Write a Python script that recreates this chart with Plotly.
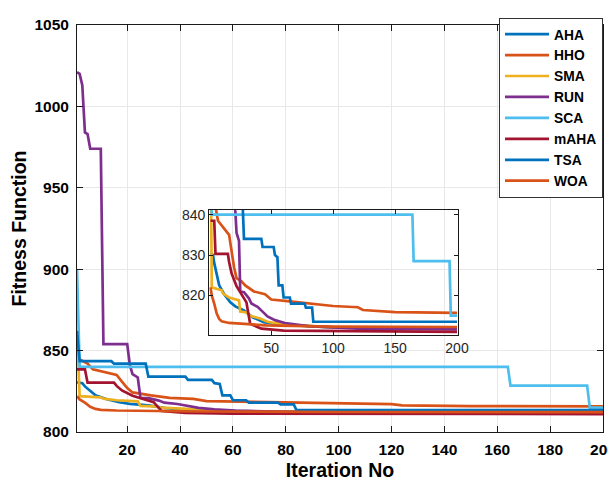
import plotly.graph_objects as go

# ---------------- data (convergence curves: iteration breakpoints, fitness) --------------
names = ["AHA", "HHO", "SMA", "RUN", "SCA", "mAHA", "TSA", "WOA"]
colors = ["#0072BD", "#D95319", "#EDB120", "#7E2F8E", "#4DBEEE", "#A2142F", "#0072BD", "#D95319"]

aha_it = [1, 3, 4, 6, 8, 12, 17, 21, 28, 35, 44, 58, 100, 200]
aha_val = [830.5, 830, 828, 825, 822.5, 820.3, 818.3, 817.3, 816.3, 814.6, 813.4, 812.8, 812.1, 811.8]

hho_it = [1, 4, 5, 7, 14, 16, 18, 20, 22, 26, 29, 36, 45, 50, 63, 80, 100, 120, 124, 150, 200]
hho_val = [845.5, 843, 842, 838.5, 836, 835, 831, 827, 824.3, 823.5, 822.5, 821, 820.3, 819, 818.6,
           818, 817.4, 817.1, 816.4, 815.9, 815.7]

sma_it = [1, 2, 10, 11, 16, 22, 24, 25, 30, 33, 41, 47, 60, 100, 200]
sma_val = [863, 822, 821.3, 820.5, 819.5, 819, 818.8, 816, 815.8, 815, 814.3, 813.5, 812.8, 812.1, 811.8]

run_it = [1, 2, 3, 4, 5, 6, 10, 11, 20, 21, 22, 24, 25, 28, 32, 34, 39, 43, 47, 53, 61, 80, 120, 200]
run_val = [1021, 1020, 1013, 984, 983, 974, 974, 854, 854, 841, 835.5, 833.5, 821, 820.8, 819.3, 818,
           817.2, 816, 814.8, 813.9, 813.2, 812.4, 811.8, 811.6]

sca_it = [1, 2, 164, 165, 194, 195, 200]
sca_val = [900, 840, 840, 828.5, 828.5, 815, 815]

maha_it = [1, 4, 5, 15, 16, 18, 22, 26, 30, 31, 33, 42, 60, 200]
maha_val = [838.5, 838.5, 830.3, 830.3, 828.3, 825.5, 822.3, 820.3, 818.3, 816.5, 813, 811.8, 811.3, 811]

tsa_it = [1, 2, 14, 15, 27, 28, 42, 43, 52, 53, 55, 56, 59, 60, 65, 66, 77, 78, 83, 84, 200]
tsa_val = [862, 843.5, 843.5, 842, 842, 834, 834, 832, 832, 830, 829.5, 822.5, 822.5, 819.5, 819.5,
           818, 818, 817, 817, 813.5, 813.5]

woa_it = [1, 2, 4, 6, 8, 10, 16, 46, 100, 200]
woa_val = [822, 820, 818, 815.5, 814.2, 813.6, 813.2, 812.6, 812.3, 812.2]

series_it = [aha_it, hho_it, sma_it, run_it, sca_it, maha_it, tsa_it, woa_it]
series_val = [aha_val, hho_val, sma_val, run_val, sca_val, maha_val, tsa_val, woa_val]

main_xticks = [20, 40, 60, 80, 100, 120, 140, 160, 180, 200]
main_yticks = [800, 850, 900, 950, 1000, 1050]
inset_xticks = [50, 100, 150, 200]
inset_yticks = [820, 830, 840]

# ---------------- figure ----------------
fig = go.Figure()
for nm, col, xs, ys in zip(names, colors, series_it, series_val):
    fig.add_trace(go.Scatter(x=xs, y=ys, mode="lines", name=nm,
                             line=dict(color=col, width=2.7), xaxis="x", yaxis="y"))
for nm, col, xs, ys in zip(names, colors, series_it, series_val):
    fig.add_trace(go.Scatter(x=xs, y=ys, mode="lines", name=nm, showlegend=False,
                             line=dict(color=col, width=2.7), xaxis="x2", yaxis="y2"))

axcol = "#1a1a1a"
FAM = "Liberation Sans, Arial, sans-serif"
boldfont = dict(family=FAM, size=15.5, color="#000000", weight="bold")

# the page body adds an 8px offset, so margins are reduced by 8px on the left/top
fig.update_layout(
    width=616, height=481,
    margin=dict(l=69, r=21, t=10, b=57),
    paper_bgcolor="white",
    plot_bgcolor="rgba(0,0,0,0)",
    showlegend=True,
    legend=dict(x=1, y=1.018, xanchor="right", yanchor="top",
                bgcolor="white", bordercolor="#333333", borderwidth=1,
                font=dict(family=FAM, size=13.8, color="#000000", weight="bold"),
                tracegroupgap=0, itemwidth=44),
    xaxis=dict(domain=[0, 1], range=[1, 200], tickvals=main_xticks, automargin=False,
               showline=True, linecolor=axcol, linewidth=1, mirror="allticks",
               ticks="inside", ticklen=6, tickcolor=axcol, ticklabelstandoff=3,
               showgrid=True, gridcolor="#e8e8e8", gridwidth=1, zeroline=False,
               tickfont=boldfont,
               title=dict(text="Iteration No", standoff=6,
                          font=dict(family=FAM, size=19.5, color="#000000", weight="bold"))),
    yaxis=dict(domain=[0, 1], range=[800, 1050], tickvals=main_yticks, automargin=False,
               showline=True, linecolor=axcol, linewidth=1, mirror="allticks",
               ticks="inside", ticklen=6, tickcolor=axcol, ticklabelstandoff=4,
               showgrid=True, gridcolor="#e8e8e8", gridwidth=1, zeroline=False,
               tickfont=boldfont,
               title=dict(text="Fitness Function", standoff=3,
                          font=dict(family=FAM, size=19.5, color="#000000", weight="bold"))),
    xaxis2=dict(domain=[0.2515, 0.7243], anchor="y2", range=[0, 200.8], tickvals=inset_xticks,
                showline=True, linecolor=axcol, linewidth=1.2, mirror="allticks",
                ticks="inside", ticklen=4, tickcolor=axcol,
                showgrid=False, zeroline=False,
                tickfont=dict(family=FAM, size=14, color="#262626")),
    yaxis2=dict(domain=[0.2391, 0.5459], anchor="x2", range=[810.3, 841.2], tickvals=inset_yticks,
                showline=True, linecolor=axcol, linewidth=1.2, mirror="allticks",
                ticks="inside", ticklen=4, tickcolor=axcol,
                showgrid=False, zeroline=False,
                tickfont=dict(family=FAM, size=14, color="#262626")),
)

fig.write_html("out.html")
